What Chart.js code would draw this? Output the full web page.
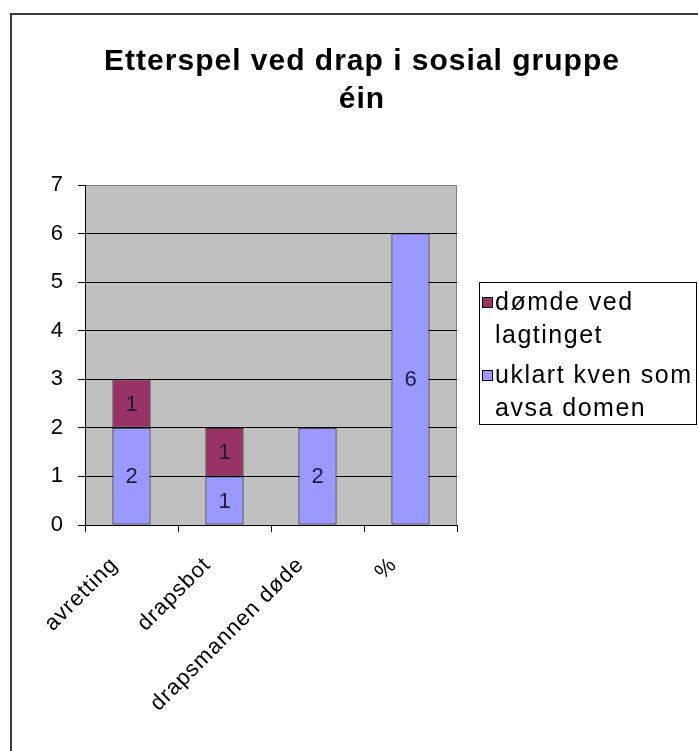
<!DOCTYPE html>
<html>
<head>
<meta charset="utf-8">
<script src="https://cdn.jsdelivr.net/npm/chart.js@4.4.0/dist/chart.umd.min.js"></script>
<style>
  html, body { margin: 0; padding: 0; background: #fff; }
  #wrap { width: 698px; height: 751px; }
</style>
</head>
<body>
<div id="wrap"><canvas id="chart" width="698" height="751"></canvas></div>
<script>
const categories = ['avretting', 'drapsbot', 'drapsmannen døde', '%'];
const uklartValues = [2, 1, 2, 6];
const domdeValues = [1, 1, 0, 0];
const yMin = 0;
const yMax = 7;
const titleLines = ['Etterspel ved drap i sosial gruppe', 'éin'];
const legendLines = [['dømde ved', 'lagtinget'], ['uklart kven som', 'avsa domen']];

const FONT = '"Liberation Sans", Arial, sans-serif';

// Excel-skrifta er breiare, så litt ekstra bokstavavstand
const spacing = {
  id: 'spacing',
  beforeUpdate(chart) {
    chart.ctx.letterSpacing = '1px';
  }
};

// ramme, grå plottflate og tittel
const backdrop = {
  id: 'backdrop',
  beforeDraw(chart) {
    const ctx = chart.ctx;
    const a = chart.chartArea;
    ctx.save();
    ctx.fillStyle = '#c0c0c0';
    ctx.fillRect(a.left, a.top, a.right - a.left, a.bottom - a.top);
    ctx.strokeStyle = '#808080';
    ctx.lineWidth = 1;
    ctx.beginPath();
    ctx.moveTo(a.left, a.top + 0.5);
    ctx.lineTo(a.right - 0.5, a.top + 0.5);
    ctx.lineTo(a.right - 0.5, a.bottom);
    ctx.stroke();
    // ytre ramme
    ctx.strokeStyle = '#3c3c3c';
    ctx.lineWidth = 2;
    ctx.beginPath();
    ctx.moveTo(11, 760);
    ctx.lineTo(11, 14);
    ctx.lineTo(710, 14);
    ctx.stroke();
    ctx.restore();
  },
  afterDraw(chart) {
    const ctx = chart.ctx;
    ctx.save();
    ctx.fillStyle = '#000';
    ctx.font = 'bold 30px ' + FONT;
    ctx.letterSpacing = '1px';
    ctx.textAlign = 'center';
    ctx.textBaseline = 'middle';
    titleLines.forEach((line, i) => ctx.fillText(line, 362, 62 + i * 38));
    ctx.restore();
  }
};

// verdiar midt i kvar bit av stolpen
const barLabels = {
  id: 'barLabels',
  afterDatasetsDraw(chart) {
    const ctx = chart.ctx;
    ctx.save();
    ctx.font = '22px ' + FONT;
    ctx.letterSpacing = '0px';
    ctx.fillStyle = '#1c1c3c';
    ctx.textAlign = 'center';
    ctx.textBaseline = 'middle';
    chart.data.datasets.forEach((ds, i) => {
      chart.getDatasetMeta(i).data.forEach((bar, j) => {
        const v = ds.data[j];
        if (!v) return;
        ctx.fillText(String(v), bar.x, (bar.y + bar.base) / 2 + 1);
      });
    });
    ctx.restore();
  }
};

// forklaring med tekst over to linjer, omvend rekkjefølgje som i Excel
const sideLegend = {
  id: 'sideLegend',
  afterDraw(chart) {
    const ctx = chart.ctx;
    ctx.save();
    ctx.strokeStyle = '#000';
    ctx.lineWidth = 1;
    ctx.strokeRect(479.5, 282.5, 217, 142);
    ctx.font = '25px ' + FONT;
    ctx.letterSpacing = '1.5px';
    ctx.textBaseline = 'middle';
    const order = [1, 0];
    let y = 303;
    order.forEach((dsIndex, k) => {
      const ds = chart.data.datasets[dsIndex];
      ctx.fillStyle = ds.backgroundColor;
      ctx.fillRect(482, y - 6, 11, 11);
      ctx.strokeStyle = '#000';
      ctx.strokeRect(482.5, y - 5.5, 10, 10);
      ctx.fillStyle = '#000';
      legendLines[k].forEach((line, li) => {
        ctx.fillText(line, 495, y + li * 33);
      });
      y += 73;
    });
    ctx.restore();
  }
};

const ctx = document.getElementById('chart').getContext('2d');
new Chart(ctx, {
  type: 'bar',
  data: {
    labels: categories,
    datasets: [
      {
        label: 'uklart kven som avsa domen',
        data: uklartValues,
        backgroundColor: '#9999ff',
        borderColor: '#000',
        borderWidth: 1,
        borderSkipped: false
      },
      {
        label: 'dømde ved lagtinget',
        data: domdeValues,
        backgroundColor: '#993366',
        borderColor: '#000',
        borderWidth: 1,
        borderSkipped: false
      }
    ]
  },
  options: {
    responsive: false,
    animation: false,
    datasets: {
      bar: { categoryPercentage: 1, barPercentage: 0.41 }
    },
    layout: { padding: { left: 30, right: 241, top: 185, bottom: 0 } },
    plugins: {
      legend: { display: false },
      title: { display: false },
      tooltip: { enabled: false }
    },
    scales: {
      x: {
        stacked: true,
        afterFit(scale) { scale.height = 226; },
        border: { color: '#000', width: 1 },
        grid: { drawOnChartArea: false, tickLength: 7, tickColor: '#000', offset: true },
        ticks: {
          color: '#000',
          font: { family: FONT, size: 22 },
          minRotation: 45,
          maxRotation: 45,
          labelOffset: -17,
          padding: 20,
          autoSkip: false
        }
      },
      y: {
        stacked: true,
        min: yMin,
        max: yMax,
        afterFit(scale) { scale.width = 55; },
        border: { color: '#000', width: 1 },
        grid: {
          color: c => (c.tick.value > yMin && c.tick.value < yMax) ? '#000' : 'rgba(0,0,0,0)',
          tickColor: '#000',
          tickLength: 7
        },
        ticks: {
          stepSize: 1,
          color: '#000',
          padding: 14,
          font: { family: FONT, size: 22 }
        }
      }
    }
  },
  plugins: [spacing, backdrop, barLabels, sideLegend]
});
</script>
</body>
</html>
